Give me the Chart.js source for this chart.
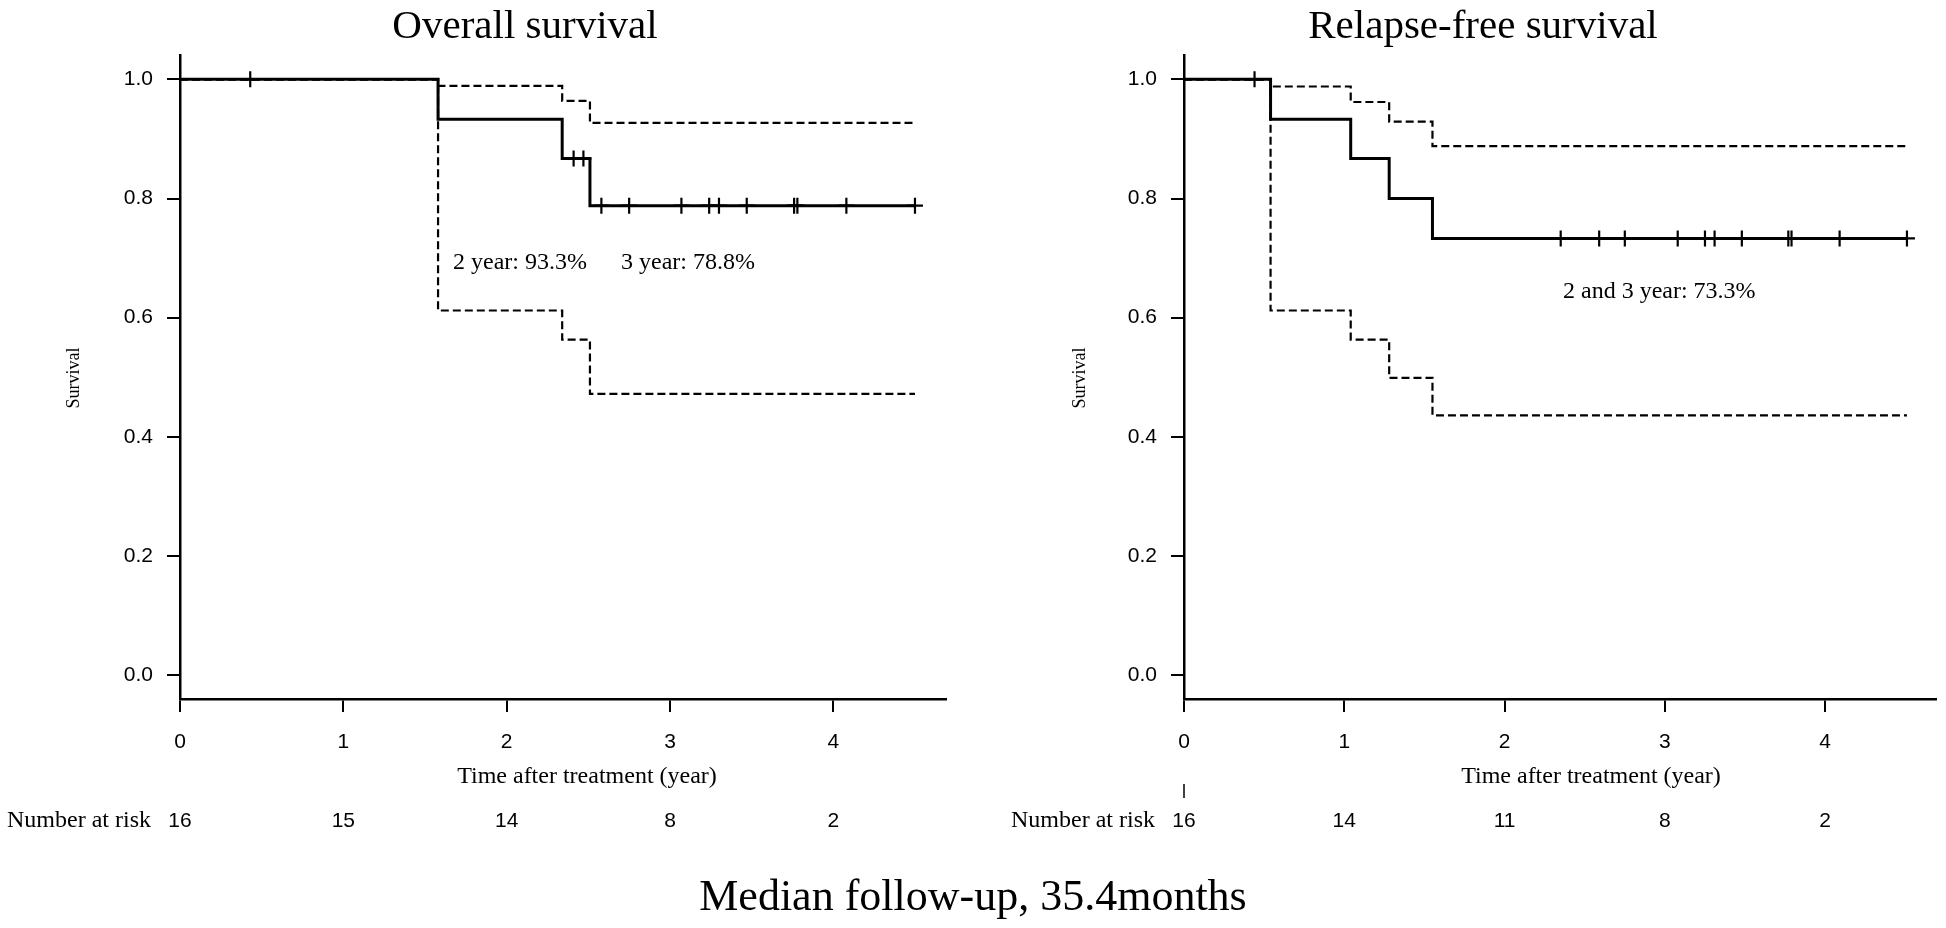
<!DOCTYPE html>
<html lang="en">
<head>
  <meta charset="UTF-8">
  <title>Overall and relapse-free survival</title>
  <script src="https://cdn.jsdelivr.net/npm/chart.js@4.4.0/dist/chart.umd.min.js"></script>
  <style>
    body { margin: 0; background: #fff; }
    #wrap { position: relative; width: 1946px; height: 928px; overflow: hidden; }
    canvas { position: absolute; top: 0; }
    #osChart { left: 0; }
    #rfsChart { left: 973px; }
    #caption { position: absolute; left: 0; top: 872px; width: 1946px; text-align: center;
               font: 44px "Liberation Serif", "Times New Roman", serif; line-height: 48px; color: #000; }
  </style>
</head>
<body>
<div id="wrap">
  <canvas id="osChart" width="973" height="928" style="width:973px;height:928px"></canvas>
  <canvas id="rfsChart" width="973" height="928" style="width:973px;height:928px"></canvas>
  <div id="caption">Median follow-up, 35.4months</div>
</div>

<script>
  // axis ticks
  const xTicks = [0, 1, 2, 3, 4];
  const yTicks = [0, 0.2, 0.4, 0.6, 0.8, 1.0];

  // overall survival (Kaplan-Meier with 95% CI)
  const osTime   = [0, 1.58, 2.34, 2.51, 4.50];
  const osSurv   = [1, 0.933, 0.867, 0.788, 0.788];
  const osUpper  = [1, 0.989, 0.964, 0.927, 0.927];
  const osLower  = [1, 0.612, 0.563, 0.472, 0.472];
  const osCensor = [0.43, 2.41, 2.47, 2.58, 2.75, 3.07, 3.24, 3.30, 3.47, 3.76, 3.78, 4.08, 4.50];
  const osRisk   = [16, 15, 14, 8, 2];

  // relapse-free survival
  const rfsTime   = [0, 0.54, 1.04, 1.28, 1.55, 4.51];
  const rfsSurv   = [1, 0.933, 0.867, 0.800, 0.733, 0.733];
  const rfsUpper  = [1, 0.988, 0.962, 0.929, 0.888, 0.888];
  const rfsLower  = [1, 0.612, 0.563, 0.499, 0.436, 0.436];
  const rfsCensor = [0.44, 2.35, 2.59, 2.75, 3.08, 3.25, 3.31, 3.48, 3.77, 3.79, 4.09, 4.51];
  const rfsRisk   = [16, 14, 11, 8, 2];

  const SERIF = '"Liberation Serif", "Times New Roman", serif';
  const SANS = '"Liberation Sans", Arial, sans-serif';

  function pts(t, s) {
    return t.map((v, i) => ({ x: v, y: s[i] }));
  }

  // survival value at time v
  function survAt(t, s, v) {
    let y = s[0];
    for (let i = 0; i < t.length; i++) if (t[i] <= v) y = s[i];
    return y;
  }

  const panelText = {
    id: 'panelText',
    afterDraw(chart, args, o) {
      const { ctx, chartArea: ca } = chart;
      const x = chart.scales.x;
      ctx.save();
      ctx.fillStyle = '#000';
      ctx.textBaseline = 'middle';

      ctx.font = '41px ' + SERIF;
      ctx.textAlign = 'center';
      ctx.fillText(o.title, o.titleX, 27);

      ctx.font = '24px ' + SERIF;
      ctx.fillText('Time after treatment (year)', ca.left + 407, 777);

      ctx.save();
      ctx.translate(o.ylabX, 378);
      ctx.rotate(-Math.PI / 2);
      ctx.font = '18px ' + SERIF;
      ctx.fillText('Survival', 0, 0);
      ctx.restore();

      ctx.font = '24px ' + SERIF;
      ctx.textAlign = 'right';
      ctx.fillText('Number at risk', ca.left - 29, 821);

      ctx.font = '21px ' + SANS;
      ctx.textAlign = 'center';
      o.risk.forEach((n, i) => ctx.fillText(String(n), x.getPixelForValue(xTicks[i]), 821));

      ctx.font = '24px ' + SERIF;
      ctx.textAlign = 'left';
      o.notes.forEach(n => ctx.fillText(n.text, ca.left + n.dx, n.y));

      if (o.riskMark) {
        ctx.strokeStyle = '#000';
        ctx.lineWidth = 1.5;
        ctx.beginPath();
        ctx.moveTo(ca.left, 784);
        ctx.lineTo(ca.left, 798);
        ctx.stroke();
      }
      ctx.restore();
    }
  };

  function makeChart(id, d) {
    const stepLine = (data, dashed) => ({
      type: 'line',
      data: data,
      stepped: true,
      borderColor: '#000',
      borderWidth: dashed ? 2.2 : 3,
      borderDash: dashed ? [8, 4] : [],
      pointRadius: 0,
      fill: false
    });

    new Chart(document.getElementById(id), {
      type: 'line',
      data: {
        datasets: [
          {
            type: 'scatter',
            data: d.censor.map(v => ({ x: v, y: survAt(d.time, d.surv, v) })),
            pointStyle: 'cross',
            pointRadius: 8,
            borderColor: '#000',
            borderWidth: 2.2,
            showLine: false
          },
          stepLine(pts(d.time, d.surv), false),
          stepLine(pts(d.time, d.upper), true),
          stepLine(pts(d.time, d.lower), true)
        ]
      },
      options: {
        responsive: false,
        animation: false,
        layout: { padding: { top: 55.5, left: 0, right: d.padRight, bottom: 0 } },
        plugins: {
          legend: { display: false },
          tooltip: { enabled: false },
          panelText: d.text
        },
        scales: {
          x: {
            type: 'linear',
            min: 0,
            max: 4.69,
            afterBuildTicks: s => { s.ticks = xTicks.map(v => ({ value: v })); },
            afterFit: s => { s.height = 229; },
            ticks: {
              autoSkip: false,
              padding: 18,
              color: '#000',
              font: { family: SANS, size: 21 },
              callback: v => String(v)
            },
            grid: { drawOnChartArea: false, drawTicks: true, tickLength: 13, color: '#000', lineWidth: 2 },
            border: { display: true, color: '#000', width: 2.5 }
          },
          y: {
            min: -0.04,
            max: 1.04,
            afterBuildTicks: s => { s.ticks = yTicks.map(v => ({ value: v })); },
            afterFit: s => { s.width = d.yWidth; },
            ticks: {
              autoSkip: false,
              padding: 14,
              color: '#000',
              font: { family: SANS, size: 21 },
              callback: v => v.toFixed(1)
            },
            grid: { drawOnChartArea: false, drawTicks: true, tickLength: 13, color: '#000', lineWidth: 2 },
            border: { display: true, color: '#000', width: 2.5 }
          }
        }
      },
      plugins: [panelText]
    });
  }

  makeChart('osChart', {
    time: osTime, surv: osSurv, upper: osUpper, lower: osLower, censor: osCensor,
    yWidth: 180, padRight: 27,
    text: {
      title: 'Overall survival', titleX: 525, ylabX: 74, risk: osRisk, riskMark: false,
      notes: [
        { text: '2 year: 93.3%', dx: 273, y: 263 },
        { text: '3 year: 78.8%', dx: 441, y: 263 }
      ]
    }
  });

  makeChart('rfsChart', {
    time: rfsTime, surv: rfsSurv, upper: rfsUpper, lower: rfsLower, censor: rfsCensor,
    yWidth: 211, padRight: 1,
    text: {
      title: 'Relapse-free survival', titleX: 510, ylabX: 107, risk: rfsRisk, riskMark: true,
      notes: [
        { text: '2 and 3 year: 73.3%', dx: 379, y: 292 }
      ]
    }
  });
</script>
</body>
</html>
